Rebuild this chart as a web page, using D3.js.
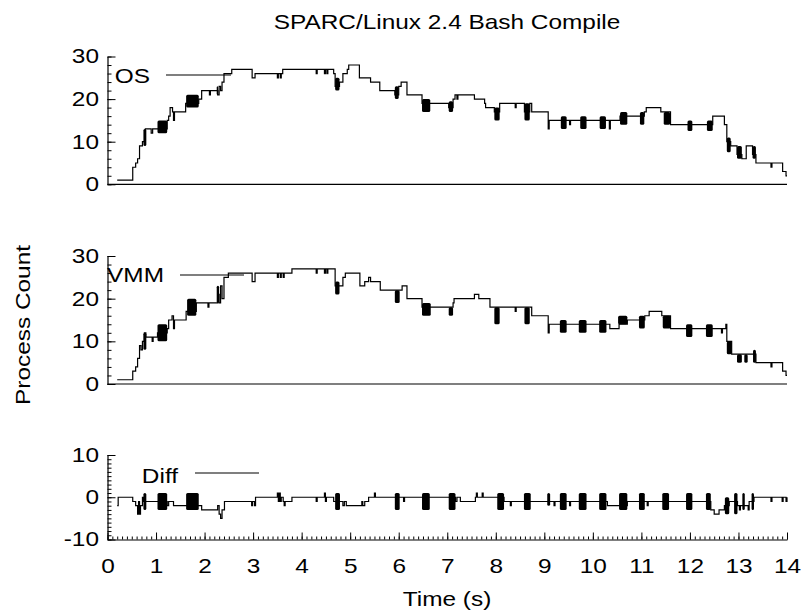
<!DOCTYPE html>
<html><head><meta charset="utf-8">
<script src="https://cdn.jsdelivr.net/npm/d3@7"></script>
<style>body{margin:0;background:#fff}svg{display:block}text{font-family:"Liberation Sans",Arial,sans-serif;fill:#000}</style>
</head><body><svg id="c" width="806" height="616"></svg>
<script>
const title = "SPARC/Linux 2.4 Bash Compile";
const xLabel = "Time (s)";
const yLabel = "Process Count";
const xTicks = [0,1,2,3,4,5,6,7,8,9,10,11,12,13,14];
const yTicksCount = [0,10,20,30];
const yTicksDiff = [-10,0,10];

// step series: [time, value] value holds until next time
const osSteps = [[0.2,1],[0.52,4],[0.58,5],[0.62,6],[0.66,9],[0.72,10],[0.78,13],[0.9,12],[0.93,13],[1.23,15],[1.26,16],[1.29,18],[1.34,17],[1.36,15],[1.38,17],[1.61,19],[1.88,20],[1.94,22],[2.1,21],[2.12,22],[2.27,21],[2.3,23],[2.33,22],[2.36,24],[2.4,26],[2.56,27],[2.98,25],[3.04,26],[3.5,25],[3.52,26],[3.56,25],[3.58,26],[3.61,27],[4.3,26],[4.32,27],[4.47,26],[4.49,27],[4.52,26],[4.54,27],[4.66,26],[4.69,23],[4.78,24],[4.85,26],[4.94,27],[4.97,28],[5.19,25],[5.42,24],[5.61,22],[5.92,21],[6.0,23],[6.05,24],[6.17,21],[6.48,19],[6.65,19],[7.03,18],[7.12,20],[7.16,21],[7.2,20],[7.22,21],[7.56,20],[7.77,19],[7.79,18],[7.97,17],[8.08,19],[8.4,18],[8.42,19],[8.59,17],[8.7,19],[8.74,17],[9.08,13],[9.1,15],[9.52,14],[9.54,15],[10.34,13],[10.36,15],[10.56,16],[11.06,17],[11.1,18],[11.4,17],[11.6,14],[12.47,16],[12.71,14],[12.76,10],[12.84,9],[12.97,7],[13.07,6],[13.16,9],[13.29,7],[13.36,5],[13.67,4],[13.69,5],[13.91,3],[13.98,2],[14,2]];
const osBursts = [[0.74,0.8,9,13],[1.03,1.23,12,15],[1.62,1.88,18,21],[2.25,2.28,21,23],[4.69,4.78,22,25],[5.92,6.0,20,23],[6.48,6.65,17,20],[7.03,7.12,17,19.5],[7.97,8.08,15,18],[8.59,8.7,15,19],[9.34,9.46,13,16],[9.74,9.87,13,16],[10.14,10.27,13,16],[10.56,10.71,14,17],[10.97,11.06,14,17],[11.46,11.59,14,17],[11.95,12.05,12.5,15],[12.35,12.47,12.5,15],[12.76,12.84,7.5,11],[12.97,13.07,6,9],[13.29,13.36,6,9]];

const vmmSteps = [[0.2,1],[0.52,3],[0.58,4],[0.62,6],[0.66,9],[0.69,8],[0.72,10],[0.76,12],[0.79,11],[0.92,10],[0.94,11],[1.03,12],[1.23,13],[1.26,15],[1.33,16],[1.36,13],[1.38,15],[1.62,17],[1.83,19],[2.07,18],[2.09,19],[2.27,21],[2.3,19],[2.33,23],[2.36,20],[2.4,25],[2.49,26],[2.98,24],[3.04,26],[3.5,25],[3.52,26],[3.56,25],[3.58,26],[3.62,25],[3.64,26],[3.8,27],[4.3,26],[4.32,27],[4.47,26],[4.49,27],[4.52,26],[4.54,27],[4.69,23],[4.78,23],[4.85,25],[4.9,26],[5.2,23],[5.3,24],[5.38,25],[5.42,24],[5.62,22],[6.02,22],[6.07,23],[6.17,20],[6.48,18],[6.66,18],[7.12,19],[7.14,20],[7.56,21],[7.65,20],[7.88,18],[8.08,18],[8.4,17],[8.42,18],[8.7,18],[8.74,16],[9.08,12],[9.1,14],[10.35,13],[10.54,14],[10.71,15],[11.07,16],[11.16,17],[11.42,16],[11.6,13],[12.65,12],[12.67,13],[12.74,14],[12.76,10],[12.86,7],[13.36,5],[13.67,4],[13.69,5],[13.91,3],[13.98,2],[14,2]];
const vmmBursts = [[0.74,0.8,8,12],[1.03,1.23,10,14],[1.64,1.83,16,20],[2.25,2.3,19,23],[4.69,4.78,21,24],[5.92,6.02,19,22],[6.48,6.66,16,19],[7.03,7.12,16,18],[7.97,8.08,14,18],[8.59,8.7,14,18],[9.32,9.46,12,15],[9.71,9.87,12,15],[10.13,10.28,12,15],[10.52,10.71,14,16],[10.95,11.07,13,16],[11.44,11.6,13,16],[11.92,12.05,11,14],[12.33,12.47,11,14],[12.76,12.86,7,10],[12.97,13.07,5,7],[13.12,13.19,5,7],[13.3,13.36,5,8]];

const diffSteps = [[0.2,-2],[0.22,0],[0.52,-1],[0.58,-2],[0.62,-4],[0.64,-1],[0.66,-4],[0.68,-2],[0.72,0],[0.74,-1],[0.8,-1],[1.23,-2],[1.26,-1],[1.36,-2],[1.88,-2],[1.94,-3],[2.27,-2],[2.3,-4],[2.33,-5],[2.36,-3],[2.41,-1],[2.97,-2],[2.99,-1],[3.03,-2],[3.05,0],[3.5,1],[3.52,-1],[3.54,1],[3.56,-1],[3.58,0],[3.62,-1],[3.64,-2],[3.66,-1],[3.8,0],[4.3,-1],[4.32,0],[4.47,1],[4.49,-1],[4.51,0],[4.66,-1],[4.79,-1],[4.85,-2],[4.88,-1],[4.92,-2],[5.24,-1],[5.26,-2],[5.3,-1],[5.38,0],[5.5,1],[5.52,0],[6.02,0],[6.1,-1],[6.12,0],[6.64,0],[7.17,-1],[7.2,0],[7.27,-1],[7.58,0],[7.6,1],[7.62,0],[7.72,1],[7.74,0],[8.17,-1],[8.3,-2],[8.32,-1],[9.12,-1],[9.2,-2],[9.22,-1],[9.46,-1],[9.52,-2],[9.54,-1],[9.87,-1],[10.28,-1],[10.3,-2],[10.71,-1],[11.07,-1],[11.12,-2],[11.14,-1],[11.57,-1],[12.05,-1],[12.43,-3],[12.5,-4],[12.6,-3],[12.71,-2],[12.81,-1],[12.98,-2],[13.02,-3],[13.04,-2],[13.13,-2],[13.2,-3],[13.22,-1],[13.32,0],[13.67,-1],[13.69,0],[13.9,-1],[13.92,0],[13.98,-1],[14,0]];
const diffBursts = [[0.74,0.8,-3,1],[1.03,1.23,-3,1],[1.62,1.88,-3,1],[4.69,4.79,-3,1],[5.92,6.02,-3,1],[6.48,6.64,-3,1],[7.03,7.17,-3,1],[8.03,8.17,-3,1],[8.58,8.72,-3,1],[9.06,9.12,-2,1],[9.32,9.46,-3,1],[9.71,9.87,-3,1],[10.13,10.28,-3,1],[10.54,10.71,-3,1],[10.95,11.07,-3,1],[11.43,11.57,-3,1],[11.92,12.05,-3,1],[12.33,12.43,-3,1],[12.72,12.81,-4,0],[12.91,12.98,-4,1],[13.08,13.13,-3,1],[13.27,13.32,-3,1]];

const svg = d3.select("#c");
const FS = 20;
const SX = 1.22; // horizontal stretch of the original's lettering
const x = d3.scaleLinear([0,14],[107.5,787]);
const panels = [
  {steps: osSteps, bursts: osBursts, y: d3.scaleLinear([0,30],[184.3,56.5]), ticks: yTicksCount, minor: d3.range(0,31,2), name:"OS", key:{tx:150,ty:82.5,lx1:166,lx2:231,ly:75}, zero:true},
  {steps: vmmSteps, bursts: vmmBursts, y: d3.scaleLinear([0,30],[384,256]), ticks: yTicksCount, minor: d3.range(0,31,2), name:"VMM", key:{tx:164,ty:282,lx1:180,lx2:244,ly:275}, zero:true},
  {steps: diffSteps, bursts: diffBursts, y: d3.scaleLinear([-10,10],[539.5,455]), ticks: yTicksDiff, minor: d3.range(-10,11,1), name:"Diff", key:{tx:178,ty:482.5,lx1:195,lx2:259,ly:473}, zero:false}
];

function stretchedText(sel, tx, ty, str, anchor, rot) {
  return sel.append("text")
    .attr("transform", `translate(${tx},${ty})${rot ? " rotate(" + rot + ")" : ""} scale(${SX},1)`)
    .attr("text-anchor", anchor).attr("font-size", FS).text(str);
}

panels.forEach(p => {
  const g = svg.append("g");
  g.append("g").attr("transform",`translate(${x(0)},0)`)
    .call(d3.axisLeft(p.y).tickValues(p.minor).tickSize(-4).tickFormat(""))
    .call(s=>s.select(".domain").remove())
    .selectAll("line").attr("stroke","#000");
  const ax = g.append("g").attr("transform",`translate(${x(0)},0)`)
    .call(d3.axisLeft(p.y).tickValues(p.ticks).tickSize(-8).tickSizeOuter(0).tickPadding(7).tickFormat(d => String(d)));
  ax.select(".domain").attr("stroke","#000").attr("stroke-width",1.2);
  ax.selectAll("line").attr("stroke","#000");
  ax.selectAll("text").attr("font-size",FS).attr("font-family","Liberation Sans, Arial, sans-serif")
    .attr("transform",`scale(${SX},1)`);
  if (p.zero) {
    g.append("line").attr("x1",x(0)).attr("x2",x(14)).attr("y1",p.y(0)).attr("y2",p.y(0))
      .attr("stroke","#000").attr("stroke-width",1.2);
  }
  const line = d3.line().x(d=>x(d[0])).y(d=>p.y(d[1])).curve(d3.curveStepAfter);
  g.append("path").datum(p.steps).attr("d",line).attr("fill","none").attr("stroke","#000").attr("stroke-width",1.2);
  g.selectAll("rect.b").data(p.bursts).join("rect").attr("class","b")
    .attr("x",d=>x(d[0])).attr("width",d=>x(d[1])-x(d[0]))
    .attr("y",d=>p.y(d[3])).attr("height",d=>p.y(d[2])-p.y(d[3]))
    .attr("rx",1.5).attr("fill","#000");
  stretchedText(g, p.key.tx, p.key.ty, p.name, "end");
  g.append("line").attr("x1",p.key.lx1).attr("x2",p.key.lx2).attr("y1",p.key.ly).attr("y2",p.key.ly).attr("stroke","#000").attr("stroke-width",1.2);
});

const yb = panels[2].y;
svg.append("g").attr("transform",`translate(0,${yb(-10)})`)
  .call(d3.axisBottom(x).tickValues(d3.range(0,14.001,0.1)).tickSize(-3).tickFormat(""))
  .call(s=>s.select(".domain").remove())
  .selectAll("line").attr("stroke","#000");
const xa = svg.append("g").attr("transform",`translate(0,${yb(-10)})`)
  .call(d3.axisBottom(x).tickValues(xTicks).tickSize(-7).tickSizeOuter(0).tickPadding(19).tickFormat(d => String(d)));
xa.select(".domain").attr("stroke","#000").attr("stroke-width",1.2);
xa.selectAll("line").attr("stroke","#000");
xa.selectAll("text").attr("font-size",FS).attr("font-family","Liberation Sans, Arial, sans-serif")
  .attr("transform",`scale(${SX},1)`);

stretchedText(svg, 447, 29, title, "middle");
stretchedText(svg, 447, 606, xLabel, "middle");
stretchedText(svg, 30, 325, yLabel, "middle", -90);
</script></body></html>
